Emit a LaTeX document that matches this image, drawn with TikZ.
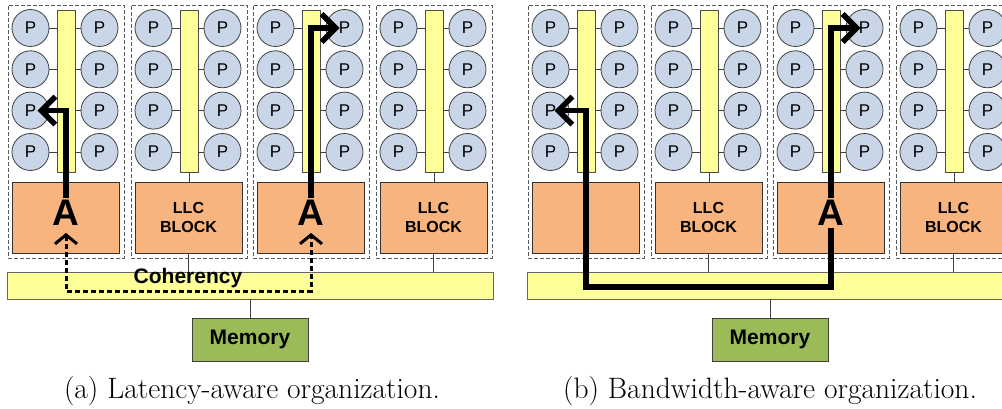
\documentclass[tikz,border=0pt]{standalone}
\usepackage{fontspec}
\newfontfamily\arial{Liberation Sans}
\usetikzlibrary{arrows.meta}
\definecolor{procfill}{HTML}{C8D6E8}
\definecolor{baryellow}{HTML}{FFFF99}
\definecolor{llcorange}{HTML}{F8B47E}
\definecolor{memgreen}{HTML}{9BBB59}
\tikzset{
 tilebox/.style={draw=black!65, dash pattern=on 4pt off 2pt, line width=0.8pt, minimum width=116pt, minimum height=253pt, inner sep=0pt},
 bar/.style={draw=black!70, fill=baryellow, minimum width=18pt, minimum height=162pt, inner sep=0pt, line width=0.8pt},
 proc/.style={circle, draw=black!75, fill=procfill, minimum size=37pt, inner sep=0pt, font=\arial\fontsize{17}{20}\selectfont, line width=0.8pt},
 link/.style={draw=black!75, line width=0.8pt},
 llc/.style={draw=black!80, fill=llcorange, minimum width=107pt, minimum height=71pt, inner sep=0pt, align=center, font=\arial\bfseries\fontsize{16}{19}\selectfont, line width=0.8pt},
 abig/.style={font=\arial\bfseries\fontsize{37}{37}\selectfont, inner sep=2pt},
 bus/.style={draw=black!60, fill=baryellow, minimum width=486pt, minimum height=27pt, inner sep=0pt, line width=0.8pt},
 mem/.style={draw=black!75, fill=memgreen, minimum width=116pt, minimum height=43pt, inner sep=0pt, font=\arial\bfseries\fontsize{21}{24}\selectfont, line width=0.8pt},
 flow/.style={line width=5.5pt, -{Straight Barb[length=14pt,width=28pt]}},
 dflow/.style={line width=3pt, dash pattern=on 5pt off 3pt, {Straight Barb[length=9pt,width=22pt]}-{Straight Barb[length=9pt,width=22pt]}},
 capt/.style={font=\fontsize{29.5}{32}\selectfont, inner sep=0pt}
}
\newcommand{\cmtile}[3]{%
  \node[tilebox] (#1) at ({#2+58},131.5) {};
  \node[bar] (#1bar) at ({#2+58},91) {};
  \foreach \r/\yy in {1/28,2/69.3,3/110.6,4/152}{
    \node[proc] (#1L\r) at ({#2+22.5},\yy) {P};
    \node[proc] (#1R\r) at ({#2+91.5},\yy) {P};
    \draw[link] (#1L\r) -- (#1L\r -| #1bar.west);
    \draw[link] (#1R\r) -- (#1R\r -| #1bar.east);
  }
  \node[llc] (#1llc) at ({#2+57.5},217.5) {#3};
  \draw[link] (#1bar.south) -- (#1bar.south |- #1llc.north);
}
\begin{document}
\begin{tikzpicture}[x=1pt,y=-1pt]
\useasboundingbox (0,0) rectangle (1002,409);
% ---------- panel (a)
\cmtile{a1}{8}{}
\cmtile{a2}{131}{LLC\\BLOCK}
\cmtile{a3}{253}{}
\cmtile{a4}{376}{LLC\\BLOCK}
\node[bus] (abus) at (250,285.5) {};
\node[mem] (amem) at (250,339.5) {Memory};
\draw[link] (abus.south) -- (amem.north);
\draw[link] (a2llc.south) -- (a2llc.south |- abus.north);
\draw[link] (a4llc.south) -- (a4llc.south |- abus.north);
\node[font=\arial\bfseries\fontsize{21}{23}\selectfont, inner sep=0pt] (coh) at (188,278) {Coherency};
\node[abig] (a1A) at (66,213) {A};
\node[abig] (a3A) at (311,213) {A};
\coordinate (ad1) at (66,291);
\coordinate (ad2) at (311,291);
\draw[dflow] ([yshift=-5pt]a1A.south) -- (ad1) -- (ad2) -- ([yshift=-5pt]a3A.south);
\draw[flow] (a1A.north) -- (a1A.north |- a1L3) -- ([xshift=7pt]a1L3.center);
\draw[flow] (a3A.north) -- (a3A.north |- a3R1) -- ([xshift=-5pt]a3R1.center);
\node[capt] (capa) at (252,391) {(a) Latency-aware organization.};
% ---------- panel (b)
\cmtile{b1}{528}{}
\cmtile{b2}{651}{LLC\\BLOCK}
\cmtile{b3}{773}{}
\cmtile{b4}{896}{LLC\\BLOCK}
\node[bus] (bbus) at (770,285.5) {};
\node[mem] (bmem) at (770,339.5) {Memory};
\draw[link] (bbus.south) -- (bmem.north);
\draw[link] (b2llc.south) -- (b2llc.south |- bbus.north);
\draw[link] (b4llc.south) -- (b4llc.south |- bbus.north);
\node[abig] (b3A) at (831,213) {A};
\coordinate (bb1) at (586,287);
\coordinate (bb3) at (831,287);
\draw[flow] (b3A.south) -- (bb3) -- (bb1) -- (bb1 |- b1L3) -- ([xshift=4pt]b1L3.center);
\draw[flow] (b3A.north) -- (b3A.north |- b3R1) -- ([xshift=-4pt]b3R1.center);
\node[capt] (capb) at (770,391) {(b) Bandwidth-aware organization.};
\end{tikzpicture}
\end{document}
